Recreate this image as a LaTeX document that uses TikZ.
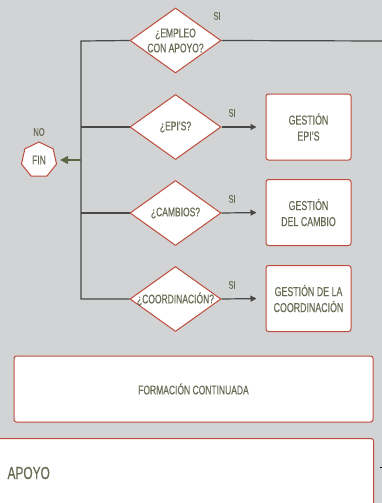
\documentclass[tikz,border=0pt]{standalone}
\usepackage{fontspec}
\setmainfont{Liberation Sans}[FakeStretch=0.68, FakeBold=0.4]
\usetikzlibrary{shapes,arrows,arrows.meta,positioning,calc}
\definecolor{bggray}{RGB}{209,211,212}
\definecolor{boxred}{RGB}{190,76,60}
\definecolor{txtolive}{RGB}{104,108,84}
\definecolor{linegray}{RGB}{72,72,72}
\definecolor{arrowolive}{RGB}{92,102,68}

\begin{document}
\begin{tikzpicture}[
    x=1pt, y=-1pt,
    decision/.style={draw=boxred, line width=1pt, fill=white, diamond, inner sep=0pt, minimum width=91pt, minimum height=65pt},
    dlabel/.style={font=\fontsize{12.5}{15}\selectfont, text=txtolive, align=center},
    block/.style={draw=boxred, line width=1pt, fill=white, rectangle, rounded corners=2.5pt, minimum width=85pt, minimum height=66pt, font=\fontsize{13}{16}\selectfont, text=txtolive, align=center},
    wide/.style={draw=boxred, line width=1pt, fill=white, rounded corners=2.5pt},
    yes/.style={font=\fontsize{11}{13}\selectfont, text=txtolive},
    edge/.style={line width=1.2pt, draw=linegray},
    arrow/.style={edge, -{Triangle[length=6pt, width=6pt]}},
]

% Background and frame
\fill[bggray] (0,0) rectangle (382,503);
\useasboundingbox (0,0) rectangle (382,503);
\clip (0,0) rectangle (382,503);

% Decisions
\node[decision] (qempleo) at (175.5,40.5) {};
\node[dlabel] (templeo) at (qempleo.center) {¿EMPLEO\\CON APOYO?};
\node[decision] (qepis) at (175.5,127) {};
\node[dlabel] (tepis) at (qepis.center) {¿EPI'S?};
\node[decision] (qcambios) at (175.5,213) {};
\node[dlabel] (tcambios) at (qcambios.center) {¿CAMBIOS?};
\node[decision] (qcoord) at (175.5,299) {};
\node[dlabel] (tcoord) at (qcoord.center) {¿COORDINACIÓN?};

% Actions
\node[block] (gepis) at (308.5,127) {GESTIÓN\\EPI'S};
\node[block] (gcambio) at (308.5,212.5) {GESTIÓN\\DEL CAMBIO};
\node[block] (gcoord) at (308.5,298.5) {GESTIÓN DE LA\\COORDINACIÓN};

% End
\node[draw=boxred, line width=1pt, fill=white, regular polygon, regular polygon sides=7, minimum size=36pt, inner sep=0pt, font=\fontsize{12.5}{15}\selectfont, text=txtolive] (fin) at (39,160) {FIN};
\node[yes] (no) at (39,132) {NO};

% Trunk and branches
\coordinate (trunktop) at (81,41);
\coordinate (trunkbot) at (81,299);
\coordinate (exit) at (383,41);
\draw[edge] (exit) -- (qempleo.east);
\draw[edge] (qempleo.west) -- (trunktop) -- (trunkbot) -- (qcoord.west);
\draw[edge] (qepis.west) -- (qepis.west -| trunktop);
\draw[edge] (qcambios.west) -- (qcambios.west -| trunktop);
\draw[edge, draw=arrowolive, -{Triangle[length=8pt, width=8pt]}, shorten >=4pt] (fin.east -| trunktop) -- (fin.east);

% Yes arrows
\draw[arrow, shorten >=9pt] (qepis.east) -- (gepis.west);
\draw[arrow, shorten >=9pt] (qcambios.east) -- (gcambio.west);
\draw[arrow, shorten >=9pt] (qcoord.east) -- (gcoord.west);
\node[yes] (si1) at (217,16) {SI};
\node[yes] (si2) at (232,113) {SI};
\node[yes] (si3) at (232,199) {SI};
\node[yes] (si4) at (232,285) {SI};

% Lower boxes
\node[wide, minimum width=359pt, minimum height=66pt, font=\fontsize{12.5}{15}\selectfont, text=txtolive] (formacion) at (193.5,389) {FORMACIÓN CONTINUADA};
\node[wide, minimum width=383pt, minimum height=90pt, anchor=north west] (apoyo) at (-10,438) {};
\node[font=\fontsize{17.5}{20}\selectfont, text=txtolive, anchor=west] (tapoyo) at (4,473) {APOYO};
\coordinate (tick) at (379.5,467);
\draw[line width=0.8pt] (tick) -- ++(3,0);

\end{tikzpicture}
\end{document}
